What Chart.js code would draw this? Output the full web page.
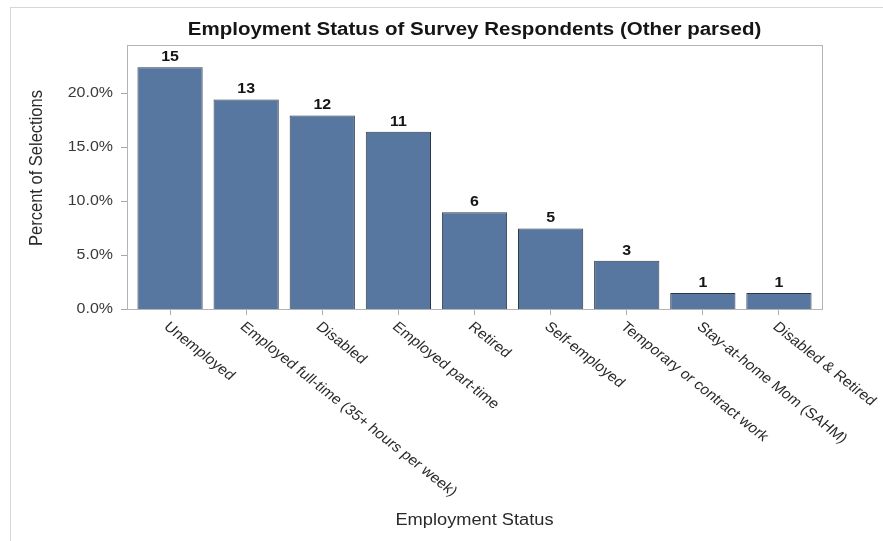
<!DOCTYPE html>
<html>
<head>
<meta charset="utf-8">
<script src="https://cdn.jsdelivr.net/npm/chart.js@4.4.1/dist/chart.umd.min.js"></script>
<style>
  html, body { margin: 0; padding: 0; background: #fff; }
  #wrap { position: relative; width: 883px; height: 541px; overflow: hidden; }
  #frame { position: absolute; left: 10px; top: 7px; right: -2px; bottom: -2px;
           border-top: 1px solid #d6d6d6; border-left: 1px solid #d6d6d6; }
  canvas { position: absolute; left: 0; top: 0; }
</style>
</head>
<body>
<div id="wrap">
  <div id="frame"></div>
  <canvas id="chart" width="883" height="541"></canvas>
</div>
<script>
// Employment status counts from the survey ("Other" responses parsed)
const categories = [
  'Unemployed',
  'Employed full-time (35+ hours per week)',
  'Disabled',
  'Employed part-time',
  'Retired',
  'Self-employed',
  'Temporary or contract work',
  'Stay-at-home Mom (SAHM)',
  'Disabled & Retired'
];
const counts = [15, 13, 12, 11, 6, 5, 3, 1, 1];
const yTicks = [0, 5, 10, 15, 20];

const total = counts.reduce((a, b) => a + b, 0);
const percents = counts.map(c => c / total * 100);

const FONT = '"Liberation Sans", Arial, sans-serif';
const BOX_PAD = 5;   // plot frame sits a little outside the category range
const SX = 1.14;     // wide-ish text rendering used throughout

// text drawn with a horizontal stretch around its anchor
function wideText(ctx, text, x, y, font, align, color) {
  ctx.save();
  ctx.font = font;
  ctx.fillStyle = color;
  ctx.textAlign = align;
  ctx.textBaseline = 'middle';
  ctx.translate(x, y);
  ctx.scale(SX, 1);
  ctx.fillText(text, 0, 0);
  ctx.restore();
}

const decor = {
  id: 'decor',
  afterDraw(chart) {
    const { ctx, chartArea: a } = chart;
    const xs = chart.scales.x, ys = chart.scales.y;
    const boxL = a.left - BOX_PAD, boxR = a.right + BOX_PAD;
    const midX = (boxL + boxR) / 2;
    ctx.save();

    // plot frame
    ctx.strokeStyle = '#b4b4b4';
    ctx.lineWidth = 1;
    ctx.strokeRect(boxL + 0.5, a.top + 0.5, boxR - boxL, a.bottom - a.top);

    // y ticks and their labels
    ctx.strokeStyle = '#a8a8a8';
    ctx.beginPath();
    yTicks.forEach(v => {
      const y = Math.round(ys.getPixelForValue(v)) + 0.5;
      ctx.moveTo(boxL - 6, y);
      ctx.lineTo(boxL, y);
    });
    ctx.stroke();
    yTicks.forEach(v => {
      wideText(ctx, v.toFixed(1) + '%', boxL - 14, ys.getPixelForValue(v), '14px ' + FONT, 'right', '#3a3a3a');
    });

    // title
    wideText(ctx, 'Employment Status of Survey Respondents (Other parsed)', midX, 30,
      'bold 18px ' + FONT, 'center', '#151515');

    // count labels above bars
    const meta = chart.getDatasetMeta(0);
    meta.data.forEach((bar, i) => {
      wideText(ctx, String(counts[i]), bar.x, bar.y - 10, 'bold 14px ' + FONT, 'center', '#151515');
    });

    // slanted category labels
    ctx.fillStyle = '#2a2a2a';
    ctx.font = '14px ' + FONT;
    ctx.textAlign = 'left';
    ctx.textBaseline = 'middle';
    const ang = 42.2 * Math.PI / 180;
    categories.forEach((c, i) => {
      const x = xs.getPixelForTick(i);
      ctx.save();
      ctx.translate(x - 4, a.bottom + 16);
      ctx.scale(SX, 1);
      ctx.rotate(ang);
      ctx.fillText(c, 0, 0);
      ctx.restore();
    });

    // axis titles
    wideText(ctx, 'Employment Status', midX, 521, '16px ' + FONT, 'center', '#2a2a2a');
    ctx.save();
    ctx.translate(37, 168);
    ctx.scale(SX, 1);
    ctx.rotate(-Math.PI / 2);
    ctx.font = '16.5px ' + FONT;
    ctx.fillStyle = '#2a2a2a';
    ctx.textAlign = 'center';
    ctx.textBaseline = 'middle';
    ctx.fillText('Percent of Selections', 0, 0);
    ctx.restore();

    ctx.restore();
  }
};

new Chart(document.getElementById('chart'), {
  type: 'bar',
  data: {
    labels: categories,
    datasets: [{
      data: percents,
      backgroundColor: '#5777a0',
      borderColor: '#2f3946',
      borderWidth: 1,
      barPercentage: 0.857,
      categoryPercentage: 1
    }]
  },
  options: {
    responsive: false,
    devicePixelRatio: 1,
    animation: false,
    layout: { padding: { top: 45, right: 66, left: 0, bottom: 0 } },
    plugins: { legend: { display: false }, tooltip: { enabled: false } },
    scales: {
      x: {
        type: 'category',
        offset: true,
        grid: { display: true, drawOnChartArea: false, drawTicks: true, tickLength: 6, color: '#b0b0b0', offset: false },
        border: { display: false },
        ticks: { display: false },
        afterFit: s => { s.height = 232; }
      },
      y: {
        min: 0,
        max: 24.45,
        grid: { display: false },
        border: { display: false },
        afterBuildTicks: s => { s.ticks = yTicks.map(v => ({ value: v })); },
        ticks: { display: false },
        afterFit: s => { s.width = 132; }
      }
    }
  },
  plugins: [decor]
});
</script>
</body>
</html>
